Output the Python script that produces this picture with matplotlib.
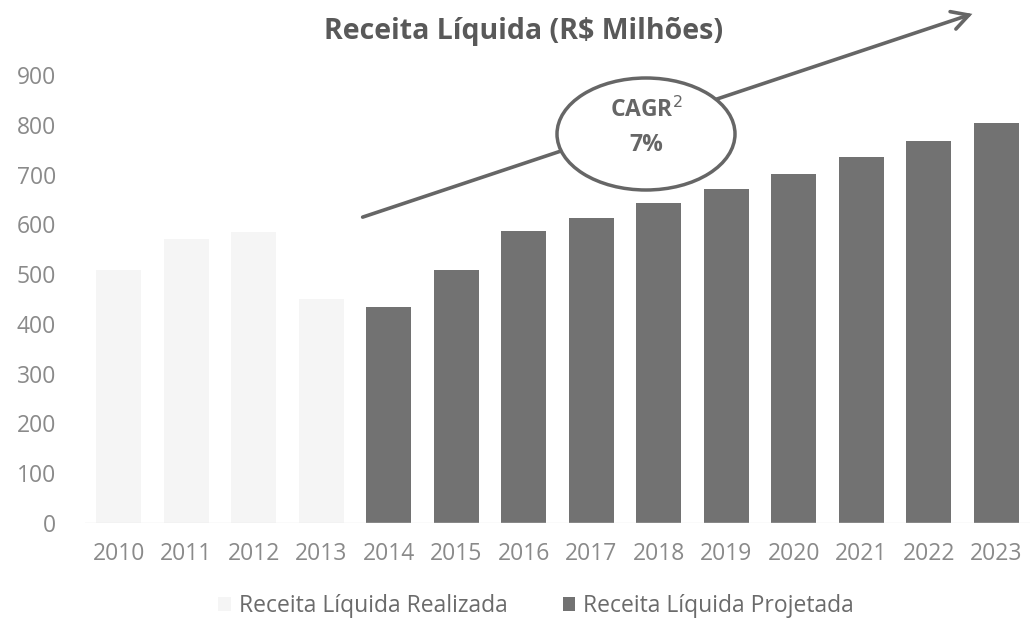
import matplotlib
matplotlib.use("Agg")
import matplotlib.pyplot as plt
from matplotlib.patches import Ellipse, FancyArrowPatch

years = ["2010", "2011", "2012", "2013", "2014", "2015", "2016", "2017",
         "2018", "2019", "2020", "2021", "2022", "2023"]
realizada = [508, 570, 585, 450, 0, 0, 0, 0, 0, 0, 0, 0, 0, 0]
projetada = [0, 0, 0, 0, 434, 508, 586, 612, 642, 671, 701, 735, 767, 803]
yticks = [0, 100, 200, 300, 400, 500, 600, 700, 800, 900]

plt.rcParams['font.family'] = ['Open Sans', 'DejaVu Sans']

fig = plt.figure(figsize=(10.31, 6.19), dpi=100)
ax = fig.add_axes([85/1031, 1-523/619, 945/1031, (523-75)/619])

x = list(range(len(years)))
ax.bar(x, realizada, width=0.66, color="#f5f5f5", label="Receita Líquida Realizada")
ax.bar(x, projetada, width=0.66, color="#727272", label="Receita Líquida Projetada")

ax.set_xlim(-0.5, len(years)-0.5)
ax.set_ylim(0, 900)
ax.set_yticks(yticks)
ax.set_yticklabels([str(v) for v in yticks])
ax.set_xticks(x)
ax.set_xticklabels(years)
ax.tick_params(axis='both', length=0, colors="#8a8a8a", labelsize=16.5)
ax.tick_params(axis='y', pad=21)
ax.tick_params(axis='x', pad=14)
for s in ax.spines.values():
    s.set_visible(False)
ax.axhline(0, color="#e6e6e6", lw=1)

leg = fig.legend(loc="center", bbox_to_anchor=(0.52, 1-606/619), ncol=2, frameon=False,
                 fontsize=16.5, handlelength=0.55, handleheight=0.55, columnspacing=2.4,
                 handletextpad=0.35)
for t in leg.get_texts():
    t.set_color("#6b6b6b")

fig.text(0.508, 1-31/619, "Receita Líquida (R$ Milhões)", ha="center", va="center",
         fontsize=20.5, fontweight="bold", color="#595959")

arrow = FancyArrowPatch((360/1031, 1-218/619), (975/1031, 1-13/619),
                        transform=fig.transFigure, arrowstyle="->,head_length=4,head_width=2.2",
                        color="#666666", lw=2.6, mutation_scale=3, joinstyle="miter")
fig.add_artist(arrow)

ell = Ellipse((646/1031, 1-134/619), 178/1031, 112/619, transform=fig.transFigure,
              facecolor="white", edgecolor="#666666", lw=2.5, zorder=5)
fig.add_artist(ell)
fig.text(646/1031, 1-110/619, "CAGR$^{2}$", ha="center", va="center", fontsize=16.5,
         fontweight="bold", color="#666666", zorder=6)
fig.text(646/1031, 1-145/619, "7%", ha="center", va="center", fontsize=16.5,
         fontweight="bold", color="#666666", zorder=6)

fig.savefig("out.png", dpi=100, facecolor="white")
